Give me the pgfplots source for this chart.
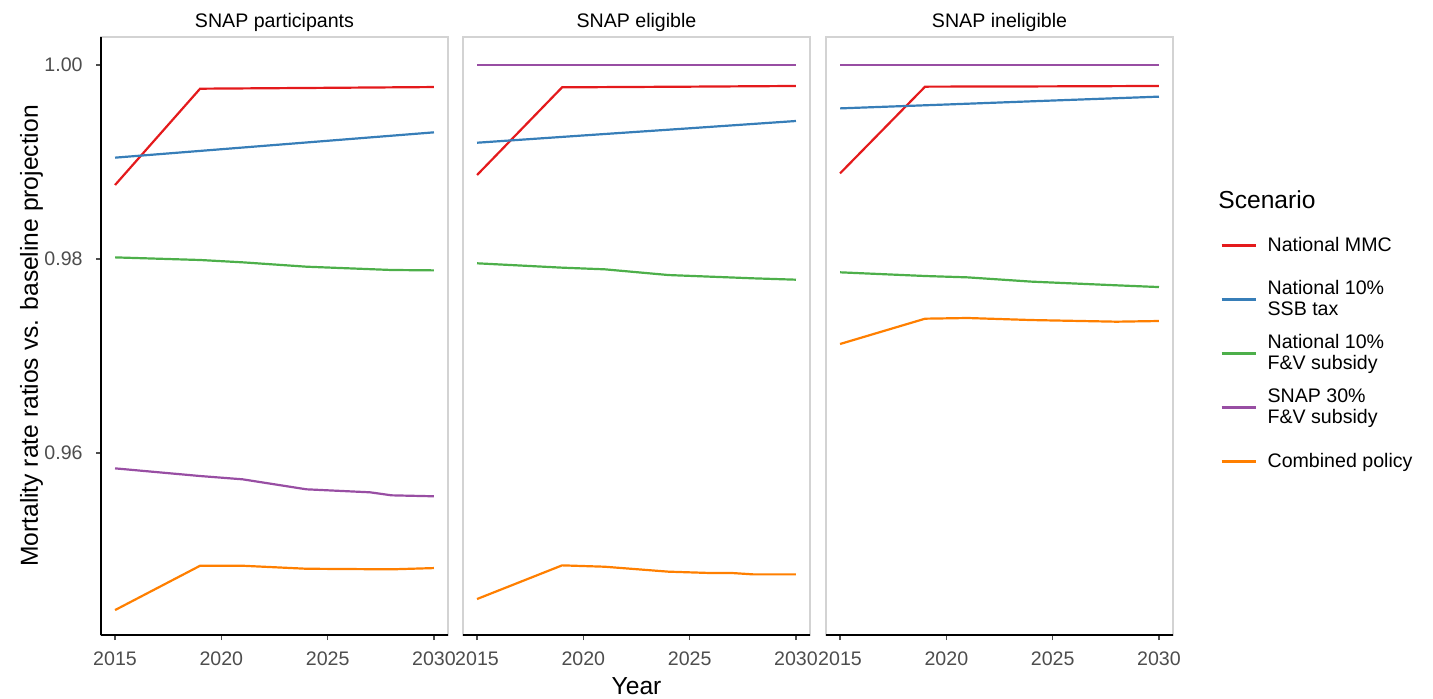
\documentclass[border=0pt]{standalone}
\usepackage{fontspec}
\setmainfont{Liberation Sans}
\usepackage{pgfplots}
\pgfplotsset{compat=1.18}

\definecolor{cMMC}{HTML}{E41A1C}
\definecolor{cSSB}{HTML}{377EB8}
\definecolor{cFV}{HTML}{4DAF4A}
\definecolor{cSNAP}{HTML}{984EA3}
\definecolor{cComb}{HTML}{FF7F00}
\definecolor{cBorder}{HTML}{D3D3D3}
\definecolor{cTick}{HTML}{4D4D4D}

\pgfplotsset{
  panel/.style={
    scale only axis, width=173.5pt, height=299pt,
    xmin=2014.34, xmax=2030.66, ymin=0.94124, ymax=1.00289,
    axis line style={draw=cBorder, line width=0.7pt},
    xtick={2015,2020,2025,2030}, xticklabels={2015,2020,2025,2030},
    ytick={0.96,0.98,1.00}, yticklabels={0.96,0.98,1.00},
    tick pos=left, tick align=outside, major tick length=2.5pt,
    major tick style={draw=cTick, line width=0.6pt},
    /pgf/number format/assume math mode=true,
    ticklabel style={font=\fontsize{9.8}{11}\selectfont, text=cTick, inner sep=0pt},
    xticklabel style={anchor=base, yshift=-12.6pt},
    yticklabel style={anchor=east, xshift=-6.5pt},
    every axis title/.style={at={(rel axis cs:0.5,1)}, anchor=base, yshift=4.5pt,
      inner sep=0pt, font=\fontsize{9.8}{12}\selectfont},
    every axis plot/.append style={line width=1.1pt, no markers},
    after end axis/.code={
      \draw[black, line width=1pt] (rel axis cs:0,0) -- (rel axis cs:1,0);
    },
  },
}

\begin{document}
\begin{tikzpicture}
\useasboundingbox (0,0) rectangle (716.5pt,349pt);

% ---- SNAP participants ----
\begin{axis}[panel, at={(50.5pt,31.5pt)}, anchor=south west,
  title={SNAP participants},
  ylabel={Mortality rate ratios vs. baseline projection},
  every axis y label/.style={at={(axis description cs:-0.2000,0.5)}, rotate=90,
    anchor=center, inner sep=0pt, font=\fontsize{12.3}{14}\selectfont},
  after end axis/.append code={
    \draw[black, line width=1pt] (rel axis cs:0,0) -- (rel axis cs:0,1);
  }]
\addplot[cMMC] coordinates {(2015,0.98763) (2019,0.99756) (2025,0.99765) (2030,0.99773)};
\addplot[cSSB] coordinates {(2015,0.99045) (2020,0.99132) (2025,0.99219) (2030,0.99306)};
\addplot[cFV] coordinates {(2015,0.98017) (2019,0.97990) (2021,0.97966) (2024,0.97921) (2028,0.97887) (2030,0.97883)};
\addplot[cSNAP] coordinates {(2015,0.95842) (2019,0.95763) (2021,0.95729) (2024,0.95626) (2027,0.95595) (2028,0.95564) (2030,0.95554)};
\addplot[cComb] coordinates {(2015,0.94381) (2019,0.94838) (2021,0.94838) (2024,0.94807) (2028,0.94801) (2030,0.94814)};
\end{axis}

% ---- SNAP eligible ----
\begin{axis}[panel, at={(231.5pt,31.5pt)}, anchor=south west,
  title={SNAP eligible}, ytick=\empty,
  xlabel={Year},
  every axis x label/.style={at={(rel axis cs:0.5,0)}, anchor=base, yshift=-29.5pt,
    inner sep=0pt, font=\fontsize{12.3}{14}\selectfont}]
\addplot[cMMC] coordinates {(2015,0.98866) (2019,0.99770) (2025,0.99777) (2030,0.99784)};
\addplot[cSSB] coordinates {(2015,0.99199) (2020,0.99274) (2025,0.99348) (2030,0.99423)};
\addplot[cFV] coordinates {(2015,0.97956) (2019,0.97911) (2021,0.97894) (2024,0.97835) (2028,0.97801) (2030,0.97787)};
\addplot[cSNAP] coordinates {(2015,1.00000) (2020,1.00000) (2025,1.00000) (2030,1.00000)};
\addplot[cComb] coordinates {(2015,0.94495) (2019,0.94842) (2021,0.94828) (2024,0.94777) (2026,0.94763) (2027,0.94763) (2028,0.94749) (2030,0.94749)};
\end{axis}

% ---- SNAP ineligible ----
\begin{axis}[panel, at={(413pt,31.5pt)}, anchor=south west,
  title={SNAP ineligible}, ytick=\empty,
  legend cell align=left,
  legend image code/.code={\draw[#1, line width=1.1pt] (0pt,0pt) -- (17pt,0pt);},
  legend style={at={(rel axis cs:1,0.6973)}, anchor=north west, xshift=23.5pt,
    draw=none, fill=none, inner sep=0pt, row sep=0pt, column sep=5.5pt,
    nodes={font=\fontsize{9.8}{10.5}\selectfont, align=left, minimum height=27pt,
      inner sep=0pt, text=black}}]
\addplot[cMMC] coordinates {(2015,0.98883) (2019,0.99777) (2025,0.99780) (2030,0.99784)};
\addlegendentry{National MMC}
\addplot[cSSB] coordinates {(2015,0.99553) (2020,0.99593) (2025,0.99634) (2030,0.99674)};
\addlegendentry{National 10\%\\SSB tax}
\addplot[cFV] coordinates {(2015,0.97863) (2019,0.97825) (2021,0.97811) (2024,0.97767) (2028,0.97729) (2030,0.97711)};
\addlegendentry{National 10\%\\F\&V subsidy}
\addplot[cSNAP] coordinates {(2015,1.00000) (2020,1.00000) (2025,1.00000) (2030,1.00000)};
\addlegendentry{SNAP 30\%\\F\&V subsidy}
\addplot[cComb] coordinates {(2015,0.97124) (2019,0.97385) (2021,0.97392) (2024,0.97371) (2028,0.97354) (2030,0.97361)};
\addlegendentry{Combined policy}
\end{axis}

\node[anchor=base west, inner sep=0pt, font=\fontsize{12.3}{14}\selectfont] at (609pt,245pt) {Scenario};
\end{tikzpicture}
\end{document}
